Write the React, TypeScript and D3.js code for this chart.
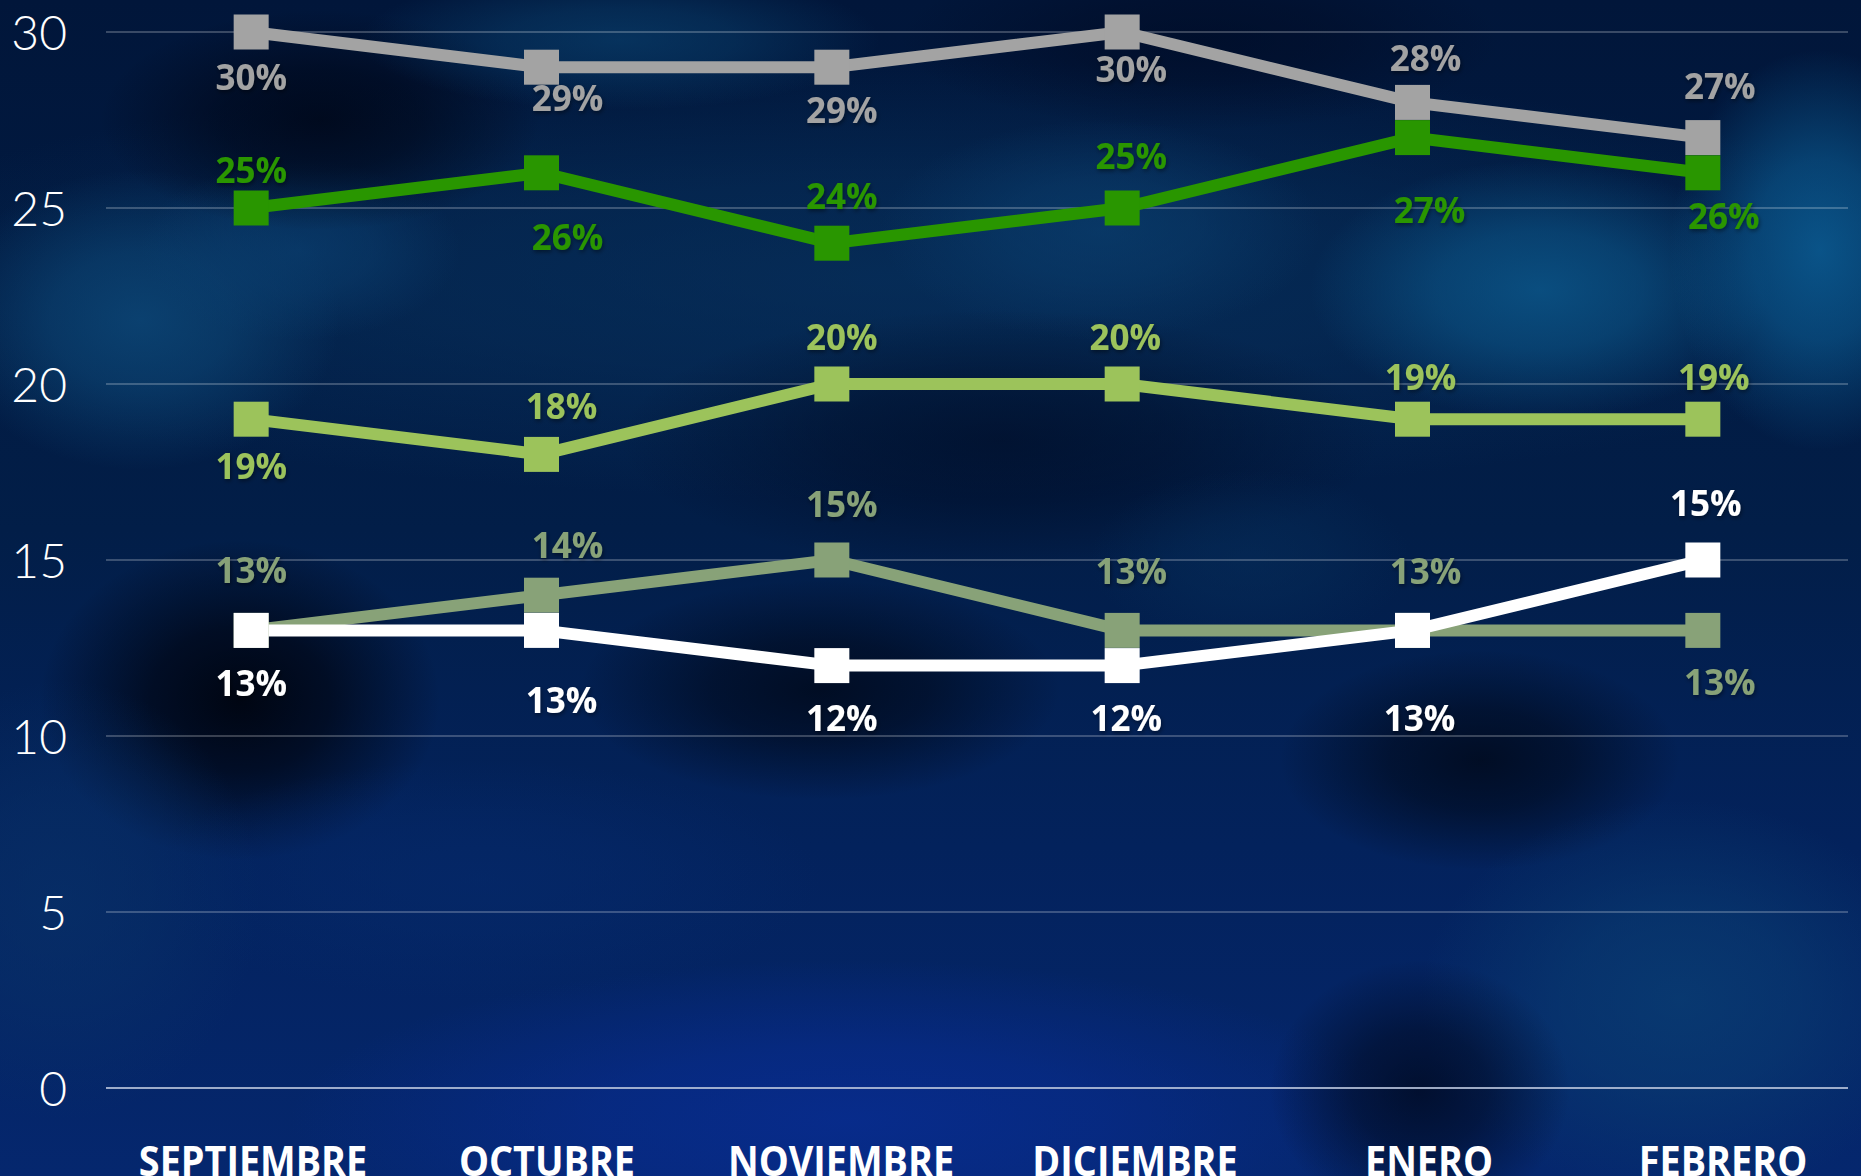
import React, { useMemo } from "react";
import * as d3 from "d3";

const months = ["SEPTIEMBRE", "OCTUBRE", "NOVIEMBRE", "DICIEMBRE", "ENERO", "FEBRERO"];
const yTicks = [0, 5, 10, 15, 20, 25, 30];

const grayValues = [30, 29, 29, 30, 28, 27];
const darkGreenValues = [25, 26, 24, 25, 27, 26];
const lightGreenValues = [19, 18, 20, 20, 19, 19];
const sageValues = [13, 14, 15, 13, 13, 13];
const whiteValues = [13, 13, 12, 12, 13, 15];

// label placement offsets (px, relative to the marker)
const grayLabelDx = [0, 26, 10, 9, 13, 17];
const grayLabelDy = [45, 31, 43, 37, -44, -51];
const darkGreenLabelDx = [0, 26, 10, 9, 17, 21];
const darkGreenLabelDy = [-38, 65, -47, -52, 73, 44];
const lightGreenLabelDx = [0, 20, 10, 3, 8, 11];
const lightGreenLabelDy = [47, -48, -47, -47, -42, -42];
const sageLabelDx = [0, 26, 10, 9, 13, 17];
const sageLabelDy = [-60, -50, -56, -59, -59, 52];
const whiteLabelDx = [0, 20, 10, 4, 7, 3];
const whiteLabelDy = [53, 70, 53, 53, 88, -57];

const W = 1861;
const H = 1176;

// decorative background blobs (cx, cy, rx, ry, colour, opacity)
const blobs: [number, number, number, number, string, number][] = [
  [900, 280, 1100, 220, "#093a68", 0.55],
  [140, 320, 200, 150, "#0c4676", 0.85],
  [300, 250, 160, 90, "#0a3f70", 0.7],
  [320, 120, 220, 110, "#000616", 0.8],
  [620, 40, 260, 70, "#0a4574", 0.6],
  [1100, 230, 220, 110, "#0a3e6e", 0.7],
  [1540, 290, 230, 130, "#0b5588", 0.85],
  [1820, 250, 150, 200, "#0b5d94", 0.85],
  [1200, 40, 300, 90, "#000a22", 0.6],
  [1000, 440, 380, 130, "#000b24", 0.65],
  [240, 700, 200, 160, "#00040f", 0.95],
  [820, 690, 240, 110, "#000818", 0.8],
  [1480, 760, 200, 110, "#000818", 0.8],
  [1250, 560, 160, 90, "#062f5c", 0.5],
  [60, 900, 200, 220, "#09336a", 0.6],
  [1680, 1000, 260, 200, "#0a3f74", 0.75],
  [850, 1120, 560, 160, "#082c90", 0.85],
  [1420, 1090, 150, 130, "#00081c", 0.75],
  [480, 880, 340, 120, "#052a6c", 0.6],
];

export default function App() {
  const x = useMemo(() => d3.scalePoint<string>().domain(months).range([106, 1848]).padding(0.5), []);
  const xLabel = useMemo(() => d3.scalePoint<string>().domain(months).range([106, 1870]).padding(0.5), []);
  const y = useMemo(() => d3.scaleLinear().domain([0, 30]).range([1088, 32]), []);

  const series = [
    { key: "gray", values: grayValues, color: "#a3a3a3", dx: grayLabelDx, dy: grayLabelDy },
    { key: "dgreen", values: darkGreenValues, color: "#299600", dx: darkGreenLabelDx, dy: darkGreenLabelDy },
    { key: "lgreen", values: lightGreenValues, color: "#9cc35b", dx: lightGreenLabelDx, dy: lightGreenLabelDy },
    { key: "sage", values: sageValues, color: "#88a278", dx: sageLabelDx, dy: sageLabelDy },
    { key: "white", values: whiteValues, color: "#ffffff", dx: whiteLabelDx, dy: whiteLabelDy },
  ];

  const line = d3
    .line<number>()
    .x((_, i) => x(months[i]) as number)
    .y((d) => y(d));

  const M = 35;

  return (
    <svg
      width={W}
      height={H}
      viewBox={`0 0 ${W} ${H}`}
      style={{ position: "absolute", left: 0, top: 0, display: "block" }}
    >
      <defs>
        <linearGradient id="bgBase" x1="0" y1="0" x2="0" y2="1">
          <stop offset="0" stopColor="#01163a" />
          <stop offset="0.45" stopColor="#021e48" />
          <stop offset="0.72" stopColor="#03225c" />
          <stop offset="1" stopColor="#05276e" />
        </linearGradient>
        {blobs.map((b, i) => (
          <radialGradient key={i} id={`blob${i}`} cx="0.5" cy="0.5" r="0.5">
            <stop offset="0" stopColor={b[4]} stopOpacity={b[5]} />
            <stop offset="0.45" stopColor={b[4]} stopOpacity={b[5] * 0.7} />
            <stop offset="1" stopColor={b[4]} stopOpacity={0} />
          </radialGradient>
        ))}
        <filter id="shadow" x="-20%" y="-20%" width="140%" height="140%">
          <feDropShadow dx="1" dy="2" stdDeviation="2" floodColor="#000" floodOpacity="0.45" />
        </filter>
      </defs>

      <rect x={0} y={0} width={W} height={H} fill="url(#bgBase)" />
      <g>
        {blobs.map((b, i) => (
          <ellipse key={i} cx={b[0]} cy={b[1]} rx={b[2]} ry={b[3]} fill={`url(#blob${i})`} />
        ))}
      </g>

      {/* gridlines */}
      <g>
        {yTicks.map((t) => (
          <line
            key={t}
            x1={106}
            x2={1848}
            y1={y(t)}
            y2={y(t)}
            stroke={t === 0 ? "#b8c4dc" : "#ffffff"}
            strokeOpacity={t === 0 ? 0.85 : 0.3}
            strokeWidth={t === 0 ? 2 : 1.5}
          />
        ))}
      </g>

      {/* y-axis labels */}
      <g fontFamily="Lato, 'Open Sans', sans-serif" fontWeight={300} fontSize={48} fill="#ffffff">
        {yTicks.map((t) => (
          <text key={t} x={67} y={y(t) + 18} textAnchor="end">
            {t}
          </text>
        ))}
      </g>

      {/* x-axis labels */}
      <g fontFamily="'Open Sans', sans-serif" fontWeight={700} fontSize={42} fill="#ffffff">
        {months.map((m) => (
          <text
            key={m}
            transform={`translate(${xLabel(m) as number},1176) scale(0.9,1)`}
            textAnchor="middle"
          >
            {m}
          </text>
        ))}
      </g>

      {/* lines */}
      {series.map((s) => (
        <path
          key={s.key + "-line"}
          d={line(s.values) || ""}
          fill="none"
          stroke={s.color}
          strokeWidth={12}
          strokeLinejoin="miter"
        />
      ))}
      {/* markers */}
      {series.map((s) => (
        <g key={s.key + "-markers"}>
          {s.values.map((v, i) => (
            <rect
              key={i}
              x={(x(months[i]) as number) - M / 2}
              y={y(v) - M / 2}
              width={M}
              height={M}
              fill={s.color}
            />
          ))}
        </g>
      ))}

      {/* labels */}
      <g fontFamily="'Open Sans', sans-serif" fontWeight={700} fontSize={35} filter="url(#shadow)">
        {series.map((s) =>
          s.values.map((v, i) => (
            <text
              key={s.key + i}
              x={(x(months[i]) as number) + s.dx[i]}
              y={y(v) + s.dy[i] + 12.5}
              textAnchor="middle"
              fill={s.color}
            >
              {v}%
            </text>
          ))
        )}
      </g>
    </svg>
  );
}
